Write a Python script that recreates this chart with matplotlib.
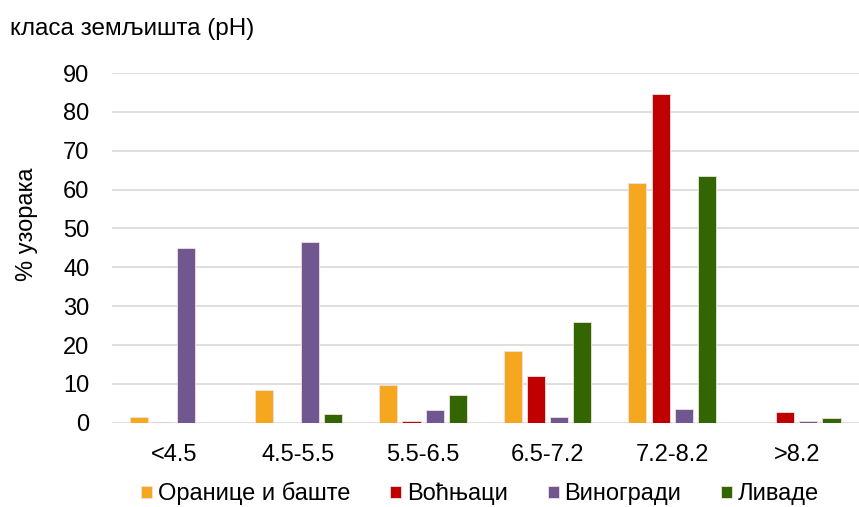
import numpy as np
import matplotlib.pyplot as plt

plt.rcParams['font.family'] = ['Liberation Sans', 'DejaVu Sans']

categories = ['<4.5', '4.5-5.5', '5.5-6.5', '6.5-7.2', '7.2-8.2', '>8.2']
series = ['Оранице и баште', 'Воћњаци', 'Виногради', 'Ливаде']
oranice = [1.5, 8.5, 9.7, 18.5, 61.7, 0.0]
vocnjaci = [0.1, 0.0, 0.5, 12.0, 84.7, 2.7]
vinogradi = [45.0, 46.5, 3.2, 1.5, 3.5, 0.5]
livade = [0.0, 2.4, 7.1, 26.0, 63.5, 1.2]
colors = ['#F5A81F', '#C00000', '#70578F', '#336600']

fig = plt.figure(figsize=(8.59, 5.07), dpi=100)
ax = fig.add_axes([0.130, 0.166, 0.870, 0.690])

x = np.arange(len(categories))
step = 0.186
width = 0.145
for i, (vals, name) in enumerate(zip([oranice, vocnjaci, vinogradi, livade], series)):
    ax.bar(x + (i - 1.5) * step, vals, width, color=colors[i], label=name,
           edgecolor='#f0e0e0', linewidth=0.6, zorder=3)

ax.set_xlim(-0.5, 5.5)
ax.set_ylim(0, 90)
ax.set_yticks(range(0, 91, 10))
ax.set_xticks(x)
ax.set_xticklabels(categories)
ax.grid(axis='y', color='#d9d9d9', linewidth=1.2, zorder=0)
ax.tick_params(axis='both', length=0, labelsize=17, colors='#000000')
ax.tick_params(axis='x', pad=15)
ax.tick_params(axis='y', pad=16)
for s in ax.spines.values():
    s.set_visible(False)

fig.text(27 / 859, 1 - 224 / 507, '% узорака', fontsize=17, rotation=90,
         ha='center', va='center')
fig.text(0.012, 0.943, 'класа земљишта (pH)', fontsize=17.5, ha='left', va='center')

fig.legend(loc='center', bbox_to_anchor=(0.559, 0.026), ncol=4, frameon=False,
           fontsize=17, handlelength=0.45, handleheight=0.45, handletextpad=0.25,
           columnspacing=1.7)

fig.savefig('out.png', dpi=100)
